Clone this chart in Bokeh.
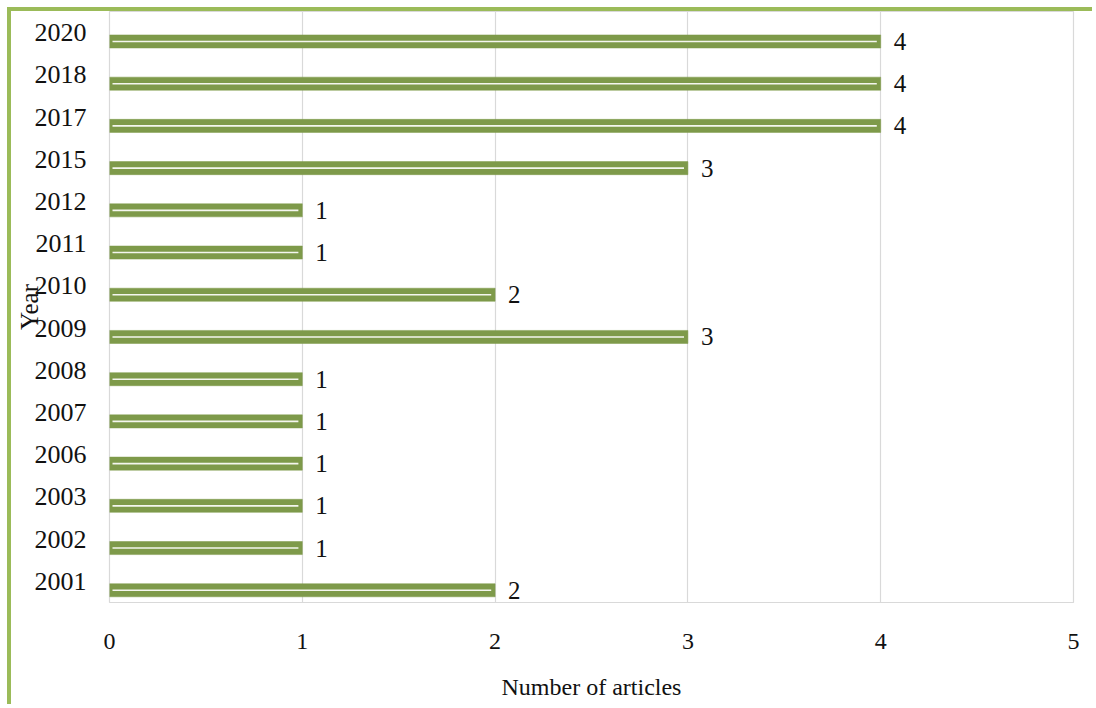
from bokeh.plotting import figure
from bokeh.models import FactorRange, Range1d, SingleIntervalTicker, ColumnDataSource
from bokeh.transform import dodge
from bokeh.core.properties import value
from bokeh.embed import file_html
from bokeh.resources import INLINE

years = ["2001", "2002", "2003", "2006", "2007", "2008", "2009",
         "2010", "2011", "2012", "2015", "2017", "2018", "2020"]
articles = [2, 1, 1, 1, 1, 1, 3, 2, 1, 1, 3, 4, 4, 4]
x_ticks = [0, 1, 2, 3, 4, 5]

BAR = "#7E9A4A"
FRAME_GREEN = "#9BBB59"
GRID = "#D9D9D9"
SERIF = "Liberation Serif"

MARGIN = 7
BORDER = 4
W = 1096 - MARGIN - BORDER
H = 708 - MARGIN - BORDER

x_max = x_ticks[-1]
px_per_unit = (1062 - 98) / x_max
inset = 3.0 / px_per_unit

src = ColumnDataSource(dict(
    year=years,
    n=articles,
    x0=[inset] * len(articles),
    x1=[a - 1.3 * inset for a in articles],
    lbl=[str(a) for a in articles],
))

p = figure(width=W, height=H, y_range=FactorRange(*years),
           x_range=Range1d(0, x_max), output_backend="svg",
           toolbar_location=None, min_border_left=98, min_border_right=23,
           min_border_top=0, min_border_bottom=106)

p.styles = {"margin-left": f"{MARGIN}px", "margin-top": f"{MARGIN}px",
            "border-left": f"{BORDER}px solid {FRAME_GREEN}",
            "border-top": f"{BORDER}px solid {FRAME_GREEN}"}

off = -0.21
ycol = dodge("year", off, range=p.y_range)
p.hbar(y=ycol, right="n", left=0, height=0.31,
       source=src, fill_color=BAR, line_color=BAR, line_width=0.5)
p.segment(x0="x0", x1="x1", y0=ycol, y1=ycol, source=src,
          line_color="#F4F6EE", line_width=1.6)
p.text(x="n", y=ycol, text="lbl", source=src,
       x_offset=13, text_baseline="middle", text_align="left",
       text_font=value(SERIF), text_font_size="25px", text_color="#111111")

p.outline_line_color = GRID
p.outline_line_width = 1.2
p.ygrid.grid_line_color = None
p.xgrid.grid_line_color = GRID
p.xgrid.grid_line_width = 1.2
p.xaxis.ticker = SingleIntervalTicker(interval=1)
p.background_fill_color = "white"
p.border_fill_color = "white"

for ax in (p.xaxis[0], p.yaxis[0]):
    ax.axis_line_color = None
    ax.major_tick_line_color = None
    ax.minor_tick_line_color = None
    ax.major_tick_out = 0
    ax.major_tick_in = 0
    ax.major_label_text_font = SERIF
    ax.major_label_text_color = "#111111"
    ax.axis_label_text_font = SERIF
    ax.axis_label_text_font_style = "normal"
    ax.axis_label_text_color = "#111111"

p.xaxis.major_label_text_font_size = "24px"
p.xaxis.major_label_standoff = 27
p.xaxis.axis_label = "Number of articles"
p.xaxis.axis_label_text_font_size = "24px"
p.xaxis.axis_label_standoff = 22

p.yaxis.major_label_text_font_size = "26px"
p.yaxis.major_label_standoff = 23
p.yaxis.axis_label = "Year"
p.yaxis.axis_label_text_font_size = "25px"
p.yaxis.axis_label_standoff = -11

open("out.html", "w").write(file_html(p, INLINE))
